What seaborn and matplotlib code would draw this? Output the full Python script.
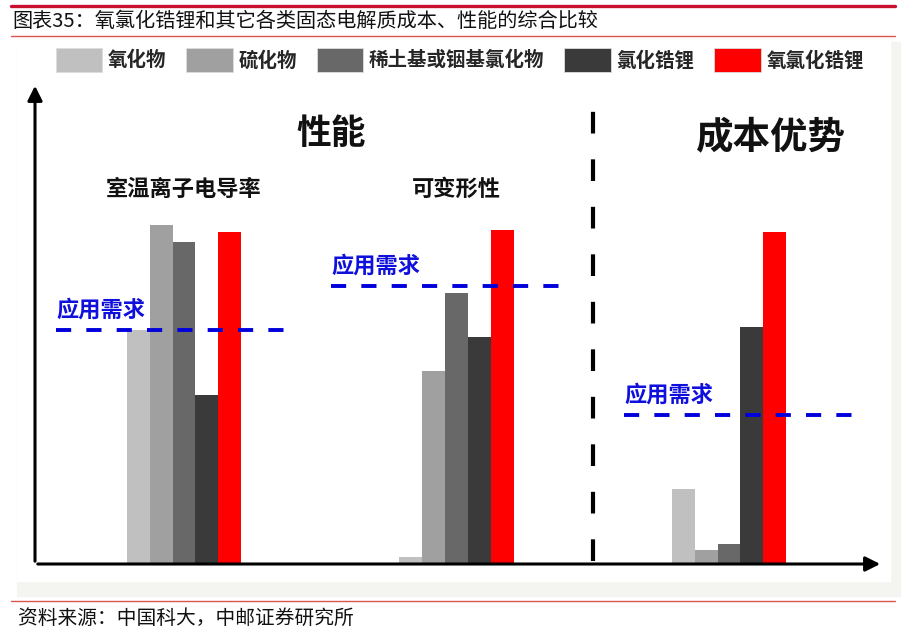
import matplotlib
matplotlib.use("Agg")
import matplotlib.pyplot as plt
import numpy as np
import pandas as pd
import seaborn as sns
from matplotlib.patches import Rectangle, Patch

# -------------------------
# data (relative scores)
# -------------------------
groups = ["室温离子电导率", "可变形性", "成本优势"]
materials = ["氧化物", "硫化物", "稀土基或铟基氯化物", "氯化锆锂", "氧氯化锆锂"]
oxide = [69, 2, 22]
sulfide = [100, 57, 4]
rare_earth = [95, 80, 6]
zr_chloride = [50, 67, 70]
zr_oxychloride = [98, 98.5, 98]
need = [69, 82, 44]
colors = ["#c0c0c0", "#a0a0a0", "#686868", "#3a3a3a", "#ff0000"]

# layout: extent of each requirement line around its group centre
need_span = [(-0.47, 0.37), (-0.46, 0.38), (-0.385, 0.45)]

rows = []
for m, vals in zip(materials, [oxide, sulfide, rare_earth, zr_chloride, zr_oxychloride]):
    for g, v in zip(groups, vals):
        rows.append({"指标": g, "材料": m, "值": v})
df = pd.DataFrame(rows)

# -------------------------
# figure
# -------------------------
sns.set_style("white")
plt.rcParams["font.family"] = ["Noto Sans CJK SC", "DejaVu Sans"]

W, H = 906, 634
fig = plt.figure(figsize=(W / 100, H / 100), dpi=100)

# panel background
fig.patches.append(Rectangle((17 / W, 1 - 596 / H), 883 / W, 554 / H,
                             transform=fig.transFigure, color="#f4f5f1", zorder=-2))
fig.patches.append(Rectangle((17 / W, 1 - 581 / H), 873 / W, 539 / H,
                             transform=fig.transFigure, color="white", zorder=-1))

# header / footer
fig.add_artist(plt.Line2D([0.012, 0.988], [1 - 6 / H, 1 - 6 / H], color="#c8102e", lw=2.4))
fig.add_artist(plt.Line2D([0.012, 0.988], [1 - 36 / H, 1 - 36 / H], color="#d9534f", lw=1))
fig.add_artist(plt.Line2D([0.012, 0.988], [1 - 601 / H, 1 - 601 / H], color="#d9534f", lw=1))
fig.text(12 / W, 1 - 21 / H, "图表35：氧氯化锆锂和其它各类固态电解质成本、性能的综合比较",
         fontsize=14.5, va="center", ha="left", color="#111111")
fig.text(18 / W, 1 - 618 / H, "资料来源：中国科大，中邮证券研究所",
         fontsize=14.2, va="center", ha="left", color="#111111")

ax = fig.add_axes([35 / W, 1 - 564 / H, 848 / W, 481 / H])
ax.patch.set_alpha(0)

sns.barplot(data=df, x="指标", y="值", hue="材料", hue_order=materials,
            palette=colors, width=0.42, saturation=1, linewidth=0,
            ax=ax, zorder=2, legend=False)

ax.set_xlim(-0.547, 2.565)
ax.set_ylim(0, 142)
for s in ax.spines.values():
    s.set_visible(False)
ax.set_xticks([])
ax.set_yticks([])
ax.set_xlabel("")
ax.set_ylabel("")

# axes with arrows
ax.annotate("", xy=(0, 1), xytext=(0, 0), xycoords="axes fraction",
            arrowprops=dict(arrowstyle="-|>", color="black", lw=2.2, mutation_scale=22))
ax.annotate("", xy=(1, 0), xytext=(0, 0), xycoords="axes fraction",
            arrowprops=dict(arrowstyle="-|>", color="black", lw=2.2, mutation_scale=22))

# divider between performance and cost
ax.plot([1.5, 1.5], [1, 141], color="black", lw=3, linestyle=(0, (5.2, 6.2)), zorder=3)

# application requirement lines
for i, (v, (a, b)) in enumerate(zip(need, need_span)):
    ax.hlines(v, i + a, i + b, colors="#0000dd", linestyles=(0, (3.9, 3.9)), lw=2.8, zorder=4)
    ax.annotate("应用需求", xy=(i + a, v), xytext=(0, 6), textcoords="offset points",
                ha="left", va="bottom", fontsize=16, fontweight="bold", color="#1010dd")

for i, g in enumerate(groups[:2]):
    ax.text(i, 110.5, g, ha="center", va="center", fontsize=16, fontweight="bold", color="#111111")
ax.text(0.54, 127, "性能", ha="center", va="center", fontsize=25, fontweight="bold", color="#111111")
ax.text(2.15, 126, "成本优势", ha="center", va="center", fontsize=27, fontweight="bold", color="#111111")

handles = [Patch(facecolor=c, edgecolor="#dddddd", lw=0.6, label=m) for m, c in zip(materials, colors)]
ax.legend(handles=handles, loc="center", bbox_to_anchor=(0.501, 1.048), ncol=5, frameon=False,
          handlelength=2.4, handleheight=1.5, handletextpad=0.3, columnspacing=1.0,
          prop={"size": 14, "weight": "bold"})

plt.savefig("out.png", dpi=100)
